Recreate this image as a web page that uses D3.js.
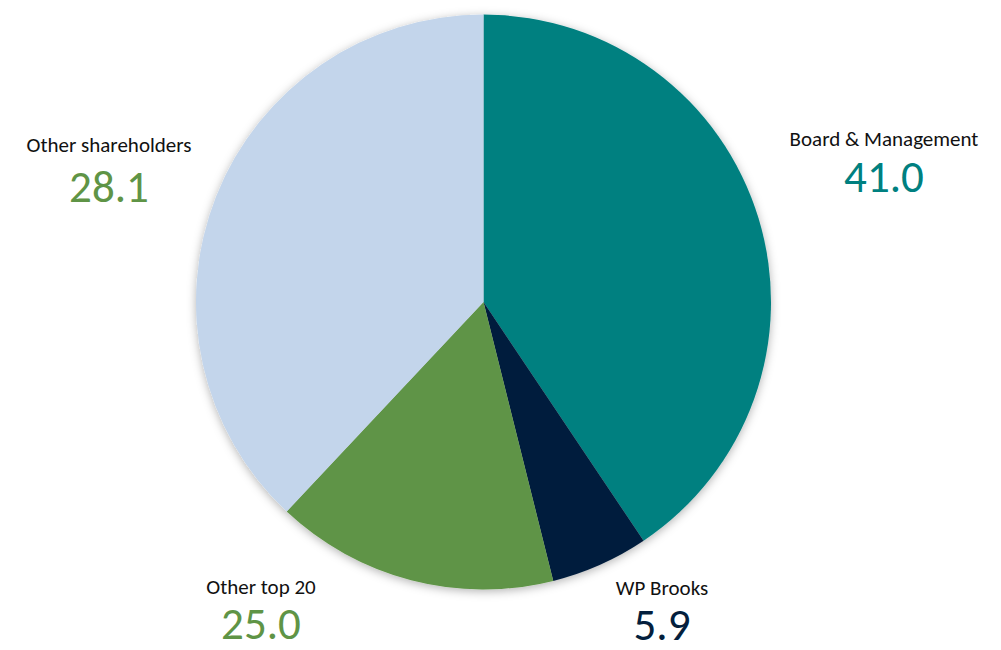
<!DOCTYPE html>
<html>
<head>
<meta charset="utf-8">
<script src="https://cdn.jsdelivr.net/npm/d3@7"></script>
<style>
  html, body { margin: 0; padding: 0; background: #fff; }
  text { font-family: Carlito, Lato, "Open Sans", sans-serif; }
</style>
</head>
<body>
<svg id="chart"></svg>
<script>
// categories, clockwise from 12 o'clock
const categories = ["Board & Management", "WP Brooks", "Other top 20", "Other shareholders"];
// slice sizes as drawn in the picture (%)
const sliceValues = [40.6, 5.5, 15.9, 38.0];
// numbers printed in the labels
const labelValues = ["41.0", "5.9", "25.0", "28.1"];
const sliceColors = ["#008080", "#041F3D", "#5F9446", "#C3D5EB"];
const valueColors = ["#008080", "#041F3D", "#5F9446", "#5F9446"];

class pieChart {
    constructor(config) {
        this.config = {
            parent: config.parent,
            width: config.width || 1001,
            height: config.height || 650,
            cx: config.cx,
            cy: config.cy,
            radius: config.radius
        };
        this.init();
    }

    init() {
        let self = this;
        self.svg = d3.select(self.config.parent)
            .attr('width', self.config.width)
            .attr('height', self.config.height);

        let defs = self.svg.append('defs');
        let filter = defs.append('filter')
            .attr('id', 'shadow')
            .attr('x', '-10%').attr('y', '-10%')
            .attr('width', '120%').attr('height', '120%');
        filter.append('feDropShadow')
            .attr('dx', 0).attr('dy', 2)
            .attr('stdDeviation', 5)
            .attr('flood-color', '#000')
            .attr('flood-opacity', 0.3);

        self.chart = self.svg.append('g')
            .attr('transform', `translate(${self.config.cx}, ${self.config.cy})`);
    }

    render() {
        let self = this;
        let pie = d3.pie().sort(null).value(d => d.value);
        let arc = d3.arc().innerRadius(0).outerRadius(self.config.radius);

        let data = categories.map((c, i) => ({ name: c, value: sliceValues[i], color: sliceColors[i] }));

        self.chart.append('g')
            .attr('filter', 'url(#shadow)')
            .selectAll('path')
            .data(pie(data))
            .enter().append('path')
            .attr('d', arc)
            .attr('fill', d => d.data.color);

        // label anchor points (centre x, name baseline, gap to value baseline)
        let labelPos = [
            { x: 884, y: 146, gap: 46 },
            { x: 662, y: 595, gap: 45 },
            { x: 261, y: 594, gap: 45 },
            { x: 109, y: 152, gap: 50 }
        ];

        let labels = self.svg.selectAll('.label')
            .data(categories)
            .enter().append('g')
            .attr('class', 'label')
            .attr('transform', (d, i) => `translate(${labelPos[i].x}, ${labelPos[i].y})`);

        labels.append('text')
            .attr('text-anchor', 'middle')
            .style('font-size', '21px')
            .attr('fill', '#111')
            .text(d => d);

        labels.append('text')
            .attr('text-anchor', 'middle')
            .attr('y', (d, i) => labelPos[i].gap)
            .style('font-size', '45px')
            .attr('fill', (d, i) => valueColors[i])
            .text((d, i) => labelValues[i]);
    }
}

let chart = new pieChart({ parent: '#chart', width: 1001, height: 650, cx: 483.5, cy: 302, radius: 287.5 });
chart.render();
</script>
</body>
</html>
